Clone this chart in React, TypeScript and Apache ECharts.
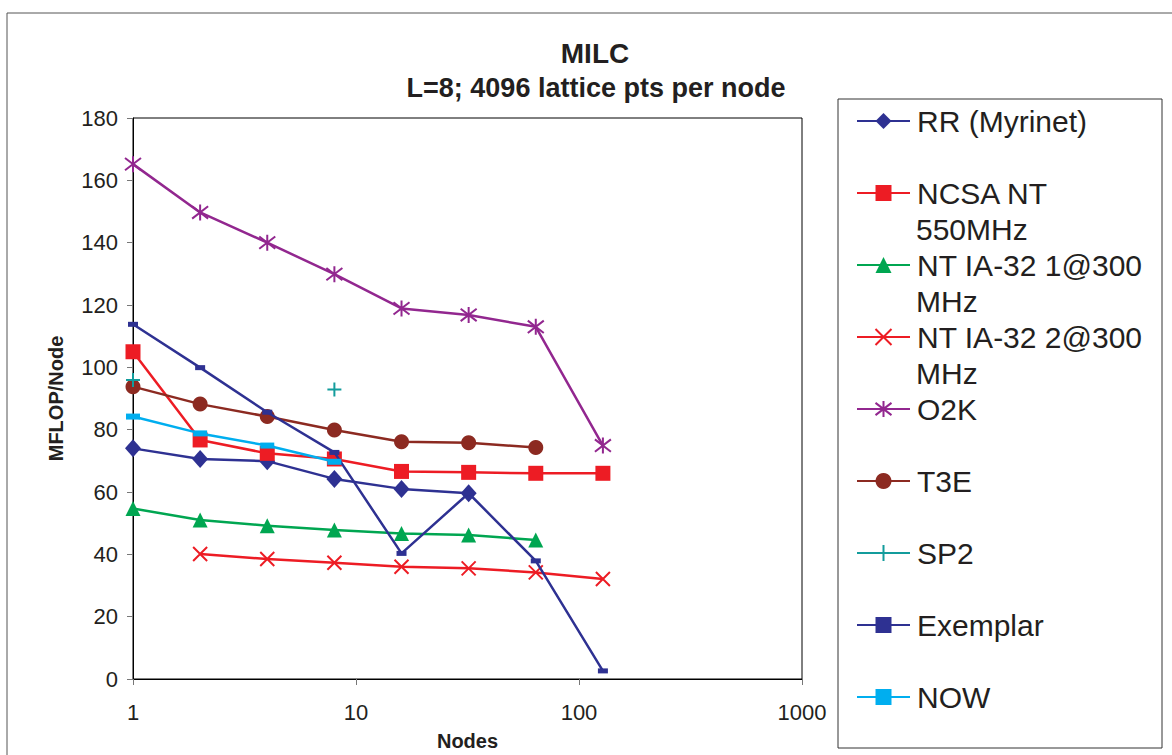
import React, { useEffect, useRef } from "react";
import * as echarts from "echarts";

const nodes = [1, 2, 4, 8, 16, 32, 64, 128];
const rrMyrinet = [74.0, 70.6, 69.9, 64.2, 61.0, 59.6, null, null];
const ncsaNT = [105.0, 76.7, 72.4, 70.6, 66.6, 66.3, 66.0, 66.0];
const ntIA1 = [54.7, 51.0, 49.2, 47.8, 46.7, 46.2, 44.6, null];
const ntIA2 = [null, 40.1, 38.5, 37.3, 36.0, 35.5, 34.2, 32.1];
const o2k = [165.2, 149.7, 140.0, 129.9, 118.9, 116.8, 113.0, 74.9];
const t3e = [93.8, 88.2, 84.2, 79.9, 76.1, 75.8, 74.3, null];
const sp2 = [95.9, null, null, 92.9, null, null, null, null];
const exemplar = [113.8, 99.9, 85.6, 72.7, 40.3, 59.6, 37.9, 2.6];
const now = [84.2, 78.8, 74.9, 69.7, null, null, null, null];

const seriesNames = [
  "RR (Myrinet)",
  "NCSA NT 550MHz",
  "NT IA-32 1@300 MHz",
  "NT IA-32 2@300 MHz",
  "O2K",
  "T3E",
  "SP2",
  "Exemplar",
  "NOW",
];
const legendFirstLines = [
  "RR (Myrinet)",
  "NCSA NT",
  "NT IA-32 1@300",
  "NT IA-32 2@300",
  "O2K",
  "T3E",
  "SP2",
  "Exemplar",
  "NOW",
];
const legendSecondLines = ["", "550MHz", "MHz", "MHz", "", "", "", "", ""];

const FONT = "'Liberation Sans', Arial, sans-serif";
const TXT = "#231F20";

export default function App() {
  const ref = useRef<HTMLDivElement>(null);
  useEffect(() => {
    if (!ref.current) return;
    const chart = echarts.init(ref.current, undefined, { renderer: "svg" });

    const mk = (vals: (number | null)[]) =>
      nodes.map((n, i) => [n, vals[i] === null ? "-" : vals[i]]);

    const defs = [
      { data: rrMyrinet, color: "#2E3192", symbol: "diamond", size: [16, 18], stroke: false },
      { data: ncsaNT, color: "#ED1C24", symbol: "rect", size: 15, stroke: false },
      { data: ntIA1, color: "#00A651", symbol: "triangle", size: 15, stroke: false },
      { data: ntIA2, color: "#ED1C24", symbol: "path://M0,0L10,10M10,0L0,10", size: 14, stroke: true },
      { data: o2k, color: "#92278F", symbol: "path://M0,0L10,10M10,0L0,10M5,-1.5L5,11.5", size: 16, stroke: true },
      { data: t3e, color: "#8C2A21", symbol: "circle", size: 15, stroke: false },
      { data: sp2, color: "#139C9C", symbol: "path://M5,0L5,10M0,5L10,5", size: 14, stroke: true },
      { data: exemplar, color: "#2E3192", symbol: "rect", size: [10, 5], stroke: false },
      { data: now, color: "#00AEEF", symbol: "rect", size: [14, 6], stroke: false },
    ];

    const series = defs.map((d, i) => ({
      name: seriesNames[i],
      type: "line",
      data: mk(d.data),
      symbol: d.symbol,
      symbolSize: d.size,
      showAllSymbol: true,
      connectNulls: false,
      lineStyle: { color: d.color, width: 2.5 },
      itemStyle: d.stroke
        ? { color: d.color, borderColor: d.color, borderWidth: 2 }
        : { color: d.color, borderWidth: 0 },
      emphasis: { disabled: true },
      z: 2 + i,
    }));

    const graphics: any[] = [
      {
        type: "rect",
        shape: { x: 7, y: 13, width: 1200, height: 800 },
        style: { fill: "none", stroke: "#555", lineWidth: 1 },
        silent: true,
      },
      {
        type: "rect",
        shape: { x: 838, y: 99, width: 324, height: 649 },
        style: { fill: "none", stroke: "#333", lineWidth: 1 },
        silent: true,
      },
      {
        type: "text",
        x: 595,
        y: 53,
        style: {
          text: "MILC",
          fill: TXT,
          font: `bold 28px ${FONT}`,
          textAlign: "center",
          textVerticalAlign: "middle",
        },
      },
      {
        type: "text",
        x: 596,
        y: 88,
        style: {
          text: "L=8; 4096 lattice pts per node",
          fill: TXT,
          font: `bold 27px ${FONT}`,
          textAlign: "center",
          textVerticalAlign: "middle",
        },
      },
    ];
    legendSecondLines.forEach((t, i) => {
      if (!t) return;
      graphics.push({
        type: "text",
        x: 916,
        y: 121 + i * 72 + 36,
        style: {
          text: t,
          fill: TXT,
          font: `30px ${FONT}`,
          textAlign: "left",
          textVerticalAlign: "middle",
        },
      });
    });

    chart.setOption({
      animation: false,
      backgroundColor: "#fff",
      textStyle: { fontFamily: FONT },
      grid: {
        left: 133,
        top: 118,
        width: 669,
        height: 561,
        show: true,
        borderColor: "#000",
        borderWidth: 1,
        containLabel: false,
        outerBoundsMode: "none",
      },
      xAxis: {
        type: "log",
        logBase: 10,
        min: 1,
        max: 1000,
        name: "Nodes",
        nameLocation: "middle",
        nameGap: 52,
        nameTextStyle: { fontFamily: FONT, fontWeight: "bold", fontSize: 20, color: TXT },
        axisLine: { show: true, lineStyle: { color: "#000", width: 1 } },
        axisTick: { show: true, inside: false, length: 6, lineStyle: { color: "#777" } },
        minorTick: { show: false },
        splitLine: { show: false },
        axisLabel: {
          fontFamily: FONT,
          fontSize: 22,
          color: TXT,
          margin: 22,
          formatter: (v: number) => String(Math.round(v)),
        },
      },
      yAxis: {
        type: "value",
        min: 0,
        max: 180,
        interval: 20,
        name: "MFLOP/Node",
        nameLocation: "middle",
        nameRotate: 90,
        nameGap: 67,
        nameTextStyle: { fontFamily: FONT, fontWeight: "bold", fontSize: 20, color: TXT },
        axisLine: { show: true, lineStyle: { color: "#000", width: 1 } },
        axisTick: { show: true, inside: false, length: 6, lineStyle: { color: "#777" } },
        splitLine: { show: false },
        axisLabel: { fontFamily: FONT, fontSize: 22, color: TXT, margin: 15 },
      },
      legend: {
        orient: "vertical",
        left: 856,
        top: 103,
        itemWidth: 53,
        itemHeight: 20,
        itemGap: 36,
        padding: 0,
        data: seriesNames,
        formatter: (name: string) => legendFirstLines[seriesNames.indexOf(name)],
        textStyle: { fontFamily: FONT, fontSize: 30, color: TXT, lineHeight: 36, padding: [0, 0, 0, 2] },
        selectedMode: false,
      },
      graphic: graphics,
      series,
    });

    return () => chart.dispose();
  }, []);

  return (
    <div
      ref={ref}
      style={{ position: "fixed", left: 0, top: 0, width: 1172, height: 755 }}
    />
  );
}
